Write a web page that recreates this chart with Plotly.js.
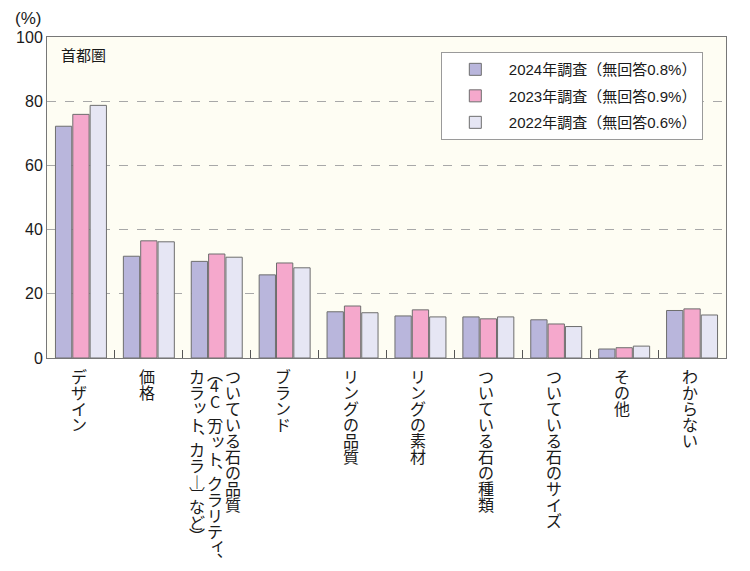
<!DOCTYPE html>
<html>
<head>
<meta charset="utf-8">
<script src="https://cdn.plot.ly/plotly-3.0.1.min.js"></script>
<style>html,body{margin:0;padding:0;background:#fff;}#chart{width:750px;height:571px;}</style>
</head>
<body>
<div id="chart"></div>
<script>
// ---- data ----
const categories = ['デザイン', '価格', 'ついている石の品質（4C〔カット、クラリティ、カラット、カラー〕など）', 'ブランド', 'リングの品質', 'リングの素材', 'ついている石の種類', 'ついている石のサイズ', 'その他', 'わからない'];
const labelColumns = [['デザイン'], ['価格'], ['ついている石の品質', '（4C〔カット、クラリティ、', 'カラット、カラー〕など）'], ['ブランド'], ['リングの品質'], ['リングの素材'], ['ついている石の種類'], ['ついている石のサイズ'], ['その他'], ['わからない']];
const seriesNames = ['2024年調査（無回答0.8%）', '2023年調査（無回答0.9%）', '2022年調査（無回答0.6%）'];
const v2024 = [72.2, 31.7, 30.1, 25.9, 14.4, 13.1, 12.8, 11.9, 2.8, 14.8];
const v2023 = [75.9, 36.5, 32.4, 29.6, 16.2, 15.0, 12.2, 10.6, 3.2, 15.3];
const v2022 = [78.7, 36.2, 31.4, 28.1, 14.1, 12.8, 12.8, 9.8, 3.7, 13.4];
const yTicks = [0, 20, 40, 60, 80, 100];
const regionLabel = '首都圏';
const unitLabel = '(%)';

// ---- styles ----
const colors = ['#b9b6dc', '#f5a8cc', '#e6e6f4'];
const seriesValues = [v2024, v2023, v2022];
const jp = '"Liberation Sans", "Noto Sans CJK JP", sans-serif';

const traces = seriesValues.map((vals, i) => ({
  type: 'bar',
  name: seriesNames[i],
  legendgroup: 'g' + i,
  x: categories,
  y: vals,
  marker: {color: colors[i], line: {color: '#6e6e6e', width: 1}},
  hoverinfo: 'x+y'
}));

// vertical text: convert to vertical presentation forms
const vmap = {'（': '︵', '）': '︶', '〔': '︹', '〕': '︺', '、': '︑', 'ー': '︱'};
const half = new Set(['︵', '︶', '︹', '︺', '︑']);
const small = new Set(['ッ', 'ィ', 'ァ', 'ゥ', 'ェ', 'ォ', 'ャ', 'ュ', 'ョ']);
const annotations = [];
labelColumns.forEach((cols, ci) => {
  const n = cols.length;
  cols.forEach((col, j) => {
    const colShift = ((n - 1) / 2 - j) * 18 - 2;
    let pos = 10;
    for (const raw of col) {
      const ch = vmap[raw] || raw;
      const adv = half.has(ch) ? 9 : 16;
      const isSmall = small.has(raw);
      annotations.push({
        text: ch, showarrow: false,
        xref: 'x', x: categories[ci], yref: 'paper', y: 0,
        xanchor: 'center', yanchor: 'middle',
        xshift: colShift + (isSmall ? 3 : 0),
        yshift: -(pos + adv / 2) + (isSmall ? 3 : 0),
        font: {family: '"Noto Sans CJK JP", sans-serif', size: 16, color: '#1a1a1a'}
      });
      pos += adv;
    }
  });
});
annotations.push({
  text: regionLabel, showarrow: false, xref: 'paper', yref: 'paper',
  x: 0.018, y: 0.944, xanchor: 'left', yanchor: 'middle',
  font: {family: '"Noto Sans CJK JP", sans-serif', size: 15, color: '#1a1a1a'}
});
annotations.push({
  text: unitLabel, showarrow: false, xref: 'paper', yref: 'paper',
  x: 0, y: 1, xanchor: 'right', yanchor: 'bottom', xshift: -4, yshift: 7,
  font: {family: jp, size: 17, color: '#1a1a1a'}
});

const layout = {
  width: 750, height: 571,
  margin: {l: 47, r: 24, t: 37, b: 213},
  paper_bgcolor: '#ffffff',
  plot_bgcolor: '#fefdf3',
  barmode: 'group',
  bargap: 0.234,
  bargroupgap: 0.06,
  showlegend: true,
  legend: {
    x: 0.58, y: 0.953, xanchor: 'left', yanchor: 'top',
    bgcolor: '#ffffff', bordercolor: '#9a9a9a', borderwidth: 1,
    font: {family: jp, size: 15, color: '#1a1a1a'},
    itemwidth: 57, traceorder: 'grouped', tracegroupgap: 4
  },
  xaxis: {
    type: 'category',
    showticklabels: false,
    ticks: 'inside', tickson: 'boundaries', ticklen: 8, tickcolor: '#555',
    showline: true, linecolor: '#777', linewidth: 1, mirror: true,
    showgrid: false, fixedrange: true
  },
  yaxis: {
    range: [0, 100],
    tickvals: yTicks,
    ticktext: yTicks.map(String),
    ticks: '',
    tickfont: {family: jp, size: 16, color: '#1a1a1a'},
    showline: true, linecolor: '#777', linewidth: 1, mirror: true,
    showgrid: true, gridcolor: '#a8a8a8', griddash: 'dash', gridwidth: 1,
    zeroline: false, fixedrange: true
  },
  annotations: annotations
};

Plotly.newPlot('chart', traces, layout, {displayModeBar: false, staticPlot: true});
</script>
</body>
</html>
